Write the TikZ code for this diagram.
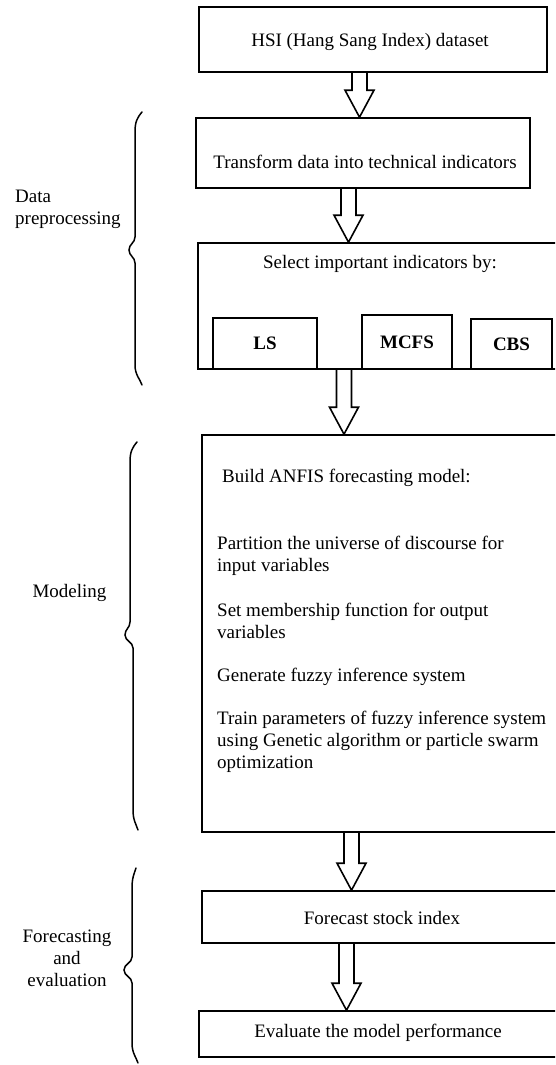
\documentclass[tikz,border=0pt]{standalone}
\usepackage{fontspec}
\setmainfont{Liberation Serif}
\usetikzlibrary{calc}
\newcommand\blockarrow[3]{%
  \draw[blockarr] let \p1=(#1.south), \p2=(#2.north) in
   (#3pt-7.5pt,\y1) -- (#3pt-7.5pt,\y2+27pt) -- (#3pt-14.5pt,\y2+27pt)
   -- (#3pt,\y2) -- (#3pt+14.5pt,\y2+27pt) -- (#3pt+7.5pt,\y2+27pt)
   -- (#3pt+7.5pt,\y1);}
\newcommand\curlyb[8]{%
  \draw[bracepath] (#1,#6) .. controls (#2+2,#6+6) and (#2,#6+10) .. (#2,#6+20)
   -- (#2,#7-13) .. controls (#2,#7-7) and (#3,#7-6) .. (#3,#7)
   .. controls (#3,#7+6) and (#4,#7+7) .. (#4,#7+13)
   -- (#4,#8-20) .. controls (#4,#8-10) and (#5-2,#8-6) .. (#5,#8);}
\begin{document}
\begin{tikzpicture}[x=1pt,y=-1pt,
  box/.style={draw, line width=1.6pt, inner sep=0pt, font=\fontsize{19}{22}\selectfont},
  smallbox/.style={box, font=\fontsize{19}{22}\selectfont\bfseries},
  txt/.style={inner sep=0pt, font=\fontsize{19}{22}\selectfont},
  blockarr/.style={draw, line width=1.6pt, line join=miter},
  bracepath/.style={draw, line width=1.5pt, line cap=round}]
\useasboundingbox (0,0) rectangle (555,1065);
\clip (0,0) rectangle (555,1065);

% boxes
\node[box, minimum width=348, minimum height=65] (hsi) at (373,39.5) {};
\node[txt] (hsit) at (370,42) {HSI (Hang Sang Index) dataset};
\node[box, minimum width=334, minimum height=70] (trans) at (363,153) {};
\node[txt] (transt) at (365,162) {Transform data into technical indicators};
\node[box, minimum width=362, minimum height=126] (sel) at (379,306) {};
\node[txt] (selt) at (380,264) {Select important indicators by:};
\node[smallbox, minimum width=104, minimum height=51] (ls) at (265,343.5) {LS};
\node[smallbox, minimum width=90, minimum height=54] (mcfs) at (407,342) {MCFS};
\node[smallbox, minimum width=81, minimum height=50] (cbs) at (511.5,344) {CBS};
\node[box, minimum width=358, minimum height=397] (anfis) at (381,633.5) {};
\node[txt, anchor=west] (b0) at (222,478) {Build ANFIS forecasting model:};
\node[txt, anchor=west, align=left] (b1) at (217,556) {Partition the universe of discourse for\\input variables};
\node[txt, anchor=west, align=left] (b2) at (217,621) {Set membership function for output\\variables};
\node[txt, anchor=west] (b3) at (217,677) {Generate fuzzy inference system};
\node[txt, anchor=west, align=left] (b4) at (217,742) {Train parameters of fuzzy inference system\\using Genetic algorithm or particle swarm\\optimization};
\node[box, minimum width=358, minimum height=52] (fore) at (381,917) {};
\node[txt] (foret) at (382,918) {Forecast stock index};
\node[box, minimum width=361, minimum height=46] (eval) at (379.5,1034) {};
\node[txt] (evalt) at (378,1033) {Evaluate the model performance};

% block arrows
\blockarrow{hsi}{trans}{359.5}
\blockarrow{trans}{sel}{348.5}
\blockarrow{sel}{anfis}{344}
\blockarrow{anfis}{fore}{351.5}
\blockarrow{fore}{eval}{346.5}

% braces and labels
\curlyb{142}{135}{129}{135}{142}{112}{250}{385}
\curlyb{137}{130}{125}{133}{138}{442}{635}{830}
\curlyb{136}{132}{124}{132}{138}{868}{970}{1063}
\node[txt, anchor=west, align=left] (dpl) at (15,209) {Data\\preprocessing};
\node[txt] (modl) at (69.5,593) {Modeling};
\node[txt, align=center] (fel) at (67,958) {Forecasting\\and\\evaluation};
\end{tikzpicture}
\end{document}
